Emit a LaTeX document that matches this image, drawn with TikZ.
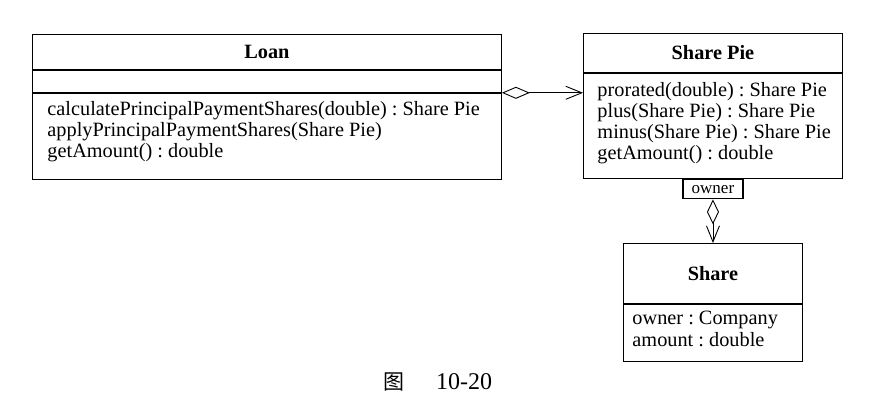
\documentclass[tikz,border=0pt]{standalone}
\usepackage{fontspec}
\setmainfont{Liberation Serif}
\newfontfamily\cjk{Noto Sans CJK SC}
\usetikzlibrary{arrows.meta,positioning}
\frenchspacing

\begin{document}
\begin{tikzpicture}[x=1pt, y=-1pt, line width=0.9pt]
   \begin{scope}[every node/.style={rectangle,inner sep=0pt,font=\fontsize{20.3}{21}\selectfont},
     frame/.style={draw,anchor=north west},
     clsname/.style={frame,font=\bfseries\fontsize{20.3}{21}\selectfont},
     op/.style={anchor=base west}]
\useasboundingbox (0,0) rectangle (888,412);

% Loan
\node [clsname, minimum width=469pt, minimum height=35pt] (loan) at (32,34) {Loan};
\node [frame, minimum width=469pt, minimum height=22pt] (loanattr) at (loan.south west) {};
\node [frame, minimum width=469pt, minimum height=86pt] (loanops) at (loanattr.south west) {};
\foreach \t [count=\i] in {calculatePrincipalPaymentShares(double) : Share Pie,
    applyPrincipalPaymentShares(Share Pie), getAmount() : double}
   \node [op] (loanop\i) at (47,94+21*\i) {\t};

% Share Pie
\node [clsname, minimum width=259pt, minimum height=39pt] (pie) at (583,33) {Share Pie};
\node [frame, minimum width=259pt, minimum height=105pt] (pieops) at (pie.south west) {};
\foreach \t [count=\i] in {prorated(double) : Share Pie, plus(Share Pie) : Share Pie,
    minus(Share Pie) : Share Pie, getAmount() : double}
   \node [op] (pieop\i) at (597,75+21*\i) {\t};

% Share
\node [clsname, minimum width=179pt, minimum height=60pt] (share) at (623,243) {Share};
\node [frame, minimum width=179pt, minimum height=57pt] (shareattr) at (share.south west) {};
\foreach \t [count=\i] in {owner : Company, amount : double}
   \node [op] (shareatt\i) at (632,302+22*\i) {\t};

% qualifier
\node [draw, anchor=north, line width=1.6pt, minimum width=60pt, minimum height=19pt,
   font=\fontsize{17}{17}\selectfont] (owner) at (pieops.south) {owner};
   \end{scope}

\draw [{Diamond[open,length=28pt,width=12pt]}-{Straight Barb[length=16pt,width=13pt]}]
   (loanattr.south east) -- (loanattr.south east -| pieops.west);
\draw [{Diamond[open,length=25pt,width=12pt]}-{Straight Barb[length=16pt,width=13pt]}]
   (owner.south) -- (share.north);

\node (caption) at (437.5,382) {{\cjk\fontsize{21}{21}\selectfont 图}\hspace{32pt}{\fontsize{24}{24}\selectfont 10-20}};
\end{tikzpicture}
\end{document}
